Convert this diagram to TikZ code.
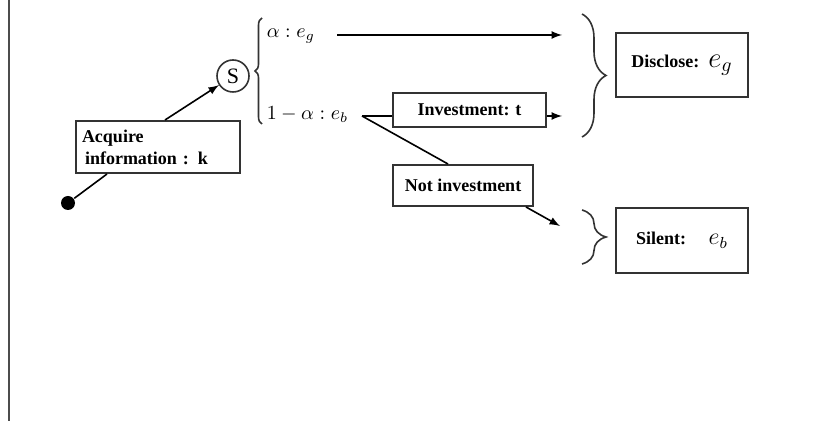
\documentclass[tikz,border=0pt]{standalone}
\usepackage{amsmath}
\usepackage{amssymb}
\usepackage{fontspec}
\setmainfont{Liberation Serif}
\usepackage{tikz}
\usetikzlibrary{decorations.pathreplacing}

\begin{document}
\begin{tikzpicture}[x=0.5pt, y=-0.5pt, thick,
	box/.style={draw=black!80, line width=1pt, rectangle, inner sep=2pt, font=\bfseries\fontsize{9}{11}\selectfont},
	arr/.style={-latex},
	brace/.style={decorate, decoration={brace, amplitude=#1}, line width=0.8pt, black!80}]
		\useasboundingbox (0,0) rectangle (823,421);
		\draw[line width=1pt, black!70] (9,0) -- (9,421);

		% start and the information step
		\node (o) [circle, inner sep=0pt, minimum size=7pt, fill=black] at (68,203) {};
		\node (acq) [box, minimum width=82pt, minimum height=26pt, text width=76pt, align=left] at (158,147) {Acquire\\ \,information : k};
		\node (S) [circle, draw=black!80, inner sep=0pt, minimum size=16pt, font=\fontsize{11}{11}\selectfont] at (233,76) {S};
		\draw (o) -- ([xshift=-25.5pt]acq.south);
		\draw[arr] ([xshift=3.5pt]acq.north) -- (S);

		% signal outcomes
		\draw[brace=3.5pt] (262,124) -- (262,18);
		\node (ag) [anchor=west, inner sep=0pt] at (266,36) {$\alpha : e_{g}$};
		\node (ab) [anchor=west, inner sep=0pt] at (266,115) {$1-\alpha : e_{b}$};

		\coordinate (s1) at (337,35);
		\coordinate (t1) at (562,35);
		\draw[arr] (s1) -- (t1);

		\coordinate (f) at (362,116);
		\node (inv) [box, minimum width=76.5pt, minimum height=17pt] at (469.5,110) {Investment: t};
		\node (ninv) [box, minimum width=70pt, minimum height=20.5pt] at (463,185.5) {Not investment};
		\coordinate (t2) at (562,116);
		\coordinate (t3) at (560,226);
		\draw (f) -- (f -| inv.west);
		\draw[arr] (inv.east |- t2) -- (t2);
		\draw (f) -- ([xshift=-7.5pt]ninv.north);
		\draw[arr] ([xshift=-4pt]ninv.south east) -- (t3);

		% results
		\draw[brace=12pt] (582,14) -- (582,137);
		\draw[brace=12pt] (582,210) -- (582,264);
		\node (dis) [box, minimum width=66pt, minimum height=32pt] at (682,65) {Disclose:\ \ {\Large$e_{g}$}};
		\node (sil) [box, minimum width=66pt, minimum height=32.5pt] at (682,240.5) {Silent:\quad\ {\large$e_{b}$}};

	\end{tikzpicture}
\end{document}
